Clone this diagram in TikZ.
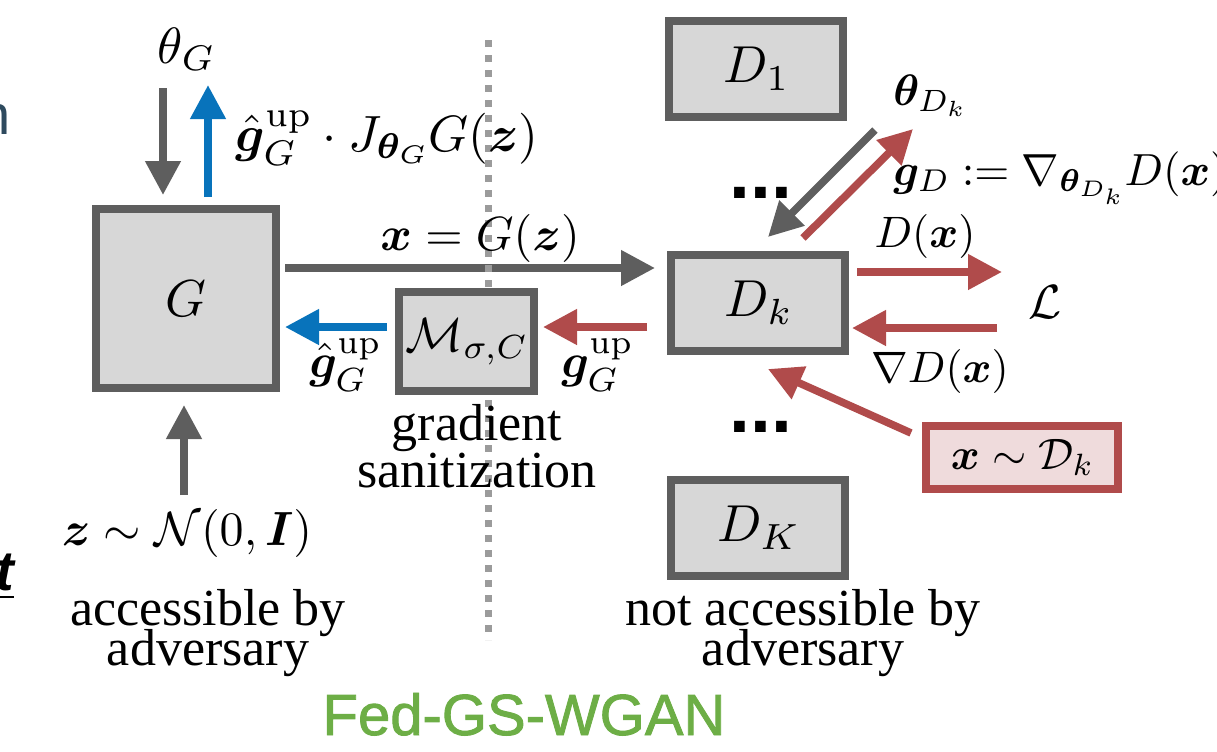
\RequirePackage{fix-cm}
\documentclass[tikz,border=0pt]{standalone}
\usepackage{amsmath}
\usepackage[no-math]{fontspec}
\setmainfont{Liberation Serif}
\newfontfamily\sansf{Liberation Sans}
\newfontfamily\sansmed[FakeBold=1.5]{Liberation Sans}
\DeclareFontShape{OML}{cmm}{m}{it}{<-14>cmmi5<14-21>cmmi7<21->cmmi10}{\skewchar\font127 }
\DeclareFontShape{OML}{cmm}{b}{it}{<-14>cmmib5<14-21>cmmib7<21->cmmib10}{\skewchar\font127 }
\DeclareFontShape{OMS}{cmsy}{m}{n}{<-14>cmsy5<14-21>cmsy7<21->cmsy10}{\skewchar\font48 }
\DeclareFontShape{OT1}{cmr}{m}{n}{<-14>cmr5<14-21>cmr7<21->cmr10}{}
\usepackage{bm}
\usetikzlibrary{arrows.meta,calc}
\definecolor{dg}{HTML}{5E5E5E}
\definecolor{lg}{HTML}{D7D7D7}
\definecolor{bl}{HTML}{0873BB}
\definecolor{rd}{HTML}{B04B4B}
\definecolor{pk}{HTML}{EFDBDC}
\definecolor{dotc}{HTML}{9B9B9B}
\definecolor{gn}{HTML}{6DAE46}
\definecolor{sl}{HTML}{2E4A5E}
\begin{document}
\begin{tikzpicture}[x=0.5pt,y=-0.5pt,
  box/.style={draw=dg,fill=lg,line width=4pt,inner sep=0pt},
  arr/.style={line width=3.8pt,-{Triangle[length=17pt,width=17pt]}},
  mbig/.style={font=\fontsize{26}{32}\selectfont},
  mlab/.style={font=\fontsize{24}{29}\selectfont,inner sep=0pt},
  mtop/.style={font=\fontsize{25.5}{29}\selectfont,inner sep=0pt},
  rlab/.style={font=\fontsize{22}{27}\selectfont,inner sep=0pt},
  glab/.style={font=\fontsize{22.5}{27}\selectfont,inner sep=0pt},
  txt/.style={font=\fontsize{26}{30}\selectfont,inner sep=0pt},
  dots/.style={font=\sansf\bfseries\fontsize{37.5}{40}\selectfont,inner sep=0pt,anchor=base},
]
\useasboundingbox (0,0) rectangle (1217,751);

% main boxes
\node[box,minimum width=90pt,minimum height=89.5pt,mbig] (G) at (186,298.5) {$G$};
\node[box,minimum width=87pt,minimum height=48pt,mbig] (D1) at (756,69) {$D_1$};
\node[box,minimum width=87pt,minimum height=48pt,mbig] (Dk) at (758,303) {$D_k$};
\node[box,minimum width=87pt,minimum height=48pt,mbig] (DK) at (758,527.5) {$D_K$};

% G -> Dk
\draw[arr,draw=dg] ($(G.east)+(5,-30.5)$) -- ($(Dk.west)+(-12,-35)$);

% separator
\coordinate (sepT) at (488,40);
\coordinate (sepB) at (488,640);
\draw[dotc,line width=3.5pt,dash pattern=on 3.5pt off 4pt] (sepT) -- (sepB);

\node[box,minimum width=67.5pt,minimum height=49.5pt,mlab] (M) at (466.5,341.5) {$\mathcal{M}_{\sigma,C}$};
\node[box,draw=rd,fill=pk,minimum width=96pt,minimum height=31.5pt,rlab] (X) at (1022,457.5) {$\bm{x}\sim\mathcal{D}_k$};

% labels
\node[mtop,anchor=base] (thG) at (186,63) {$\theta_G$};
\node[mtop,anchor=base] (gJ) at (387,151) {$\hat{\bm{g}}_G^{\mathrm{up}}\cdot J_{\bm{\theta}_G}G(\bm{z})$};
\node[mlab,anchor=base] (xG) at (480,250) {$\bm{x}=G(\bm{z})$};
\node[mlab,anchor=base] (ghl) at (345,377) {$\hat{\bm{g}}_G^{\mathrm{up}}$};
\node[mlab,anchor=base] (ghr) at (597,377) {$\bm{g}_G^{\mathrm{up}}$};
\node[rlab,anchor=base west] (thD) at (893,105) {$\bm{\theta}_{D_k}$};
\node[glab,anchor=base west] (gD) at (893,185) {$\bm{g}_D := \nabla_{\bm{\theta}_{D_k}}D(\bm{x})$};
\node[rlab,anchor=base] (Dx) at (925,247) {$D(\bm{x})$};
\node[mlab,anchor=base] (L) at (1045,318) {$\mathcal{L}$};
\node[rlab,anchor=base] (nDx) at (940,382) {$\nabla D(\bm{x})$};
\node[mlab,anchor=base] (z) at (187,545) {$\bm{z}\sim\mathcal{N}(0,\bm{I})$};

\node[txt,anchor=base] (gr1) at (477,440) {gradient};
\node[txt,anchor=base] (gr2) at (477,487) {sanitization};
\node[txt,anchor=base] (ac1) at (208,625) {accessible by};
\node[txt,anchor=base] (ac2) at (208,665) {adversary};
\node[txt,anchor=base] (na1) at (803,625) {not accessible by};
\node[txt,anchor=base] (na2) at (803,665) {adversary};

\node[dots] (dt1) at (761,198) {...};
\node[dots] (dt2) at (761,432) {...};

\node[font=\sansmed\fontsize{29}{32}\selectfont,text=gn,inner sep=0pt,anchor=base] (fed) at (524,735) {Fed-GS-WGAN};

\node[font=\sansf\fontsize{28}{30}\selectfont,text=sl,inner sep=0pt,anchor=base west] (nfrag) at (-21,134) {n};
\node[font=\sansf\bfseries\itshape\fontsize{28}{30}\selectfont,inner sep=0pt,anchor=base west] (tfrag) at (-5,590) {\underline{t}};

% arrows around G
\draw[arr,draw=dg] ($(G.north)+(-23,-117)$) -- ($(G.north)+(-23,-10)$);
\draw[arr,draw=bl] ($(G.north)+(22,-8)$) -- ($(G.north)+(22,-120)$);
\draw[arr,draw=dg] ($(G.south)+(-2,103)$) -- ($(G.south)+(-2,13)$);
\draw[arr,draw=bl] ($(M.west)+(-8,-14.5)$) -- ($(G.east)+(5,28.5)$);
\draw[arr,draw=rd] ($(Dk.west)+(-20,24)$) -- ($(M.east)+(5,-14.5)$);

% arrows around Dk
\draw[arr,draw=rd] ($(Dk.east)+(8,-31)$) -- ($(Dk.east)+(153,-31)$);
\draw[arr,draw=rd] ($(Dk.east)+(148,25)$) -- ($(Dk.east)+(3,25)$);
\draw[arr,draw=rd] ($(X.west)+(-11,-24.5)$) -- ($(Dk.south)+(10,14)$);
\draw[arr,draw=dg] ($(Dk.north)+(117,-121)$) -- ($(Dk.north)+(10,-14)$);
\draw[arr,draw=rd] ($(Dk.north)+(45,-13)$) -- ($(Dk.north)+(155,-122)$);
\end{tikzpicture}
\end{document}
